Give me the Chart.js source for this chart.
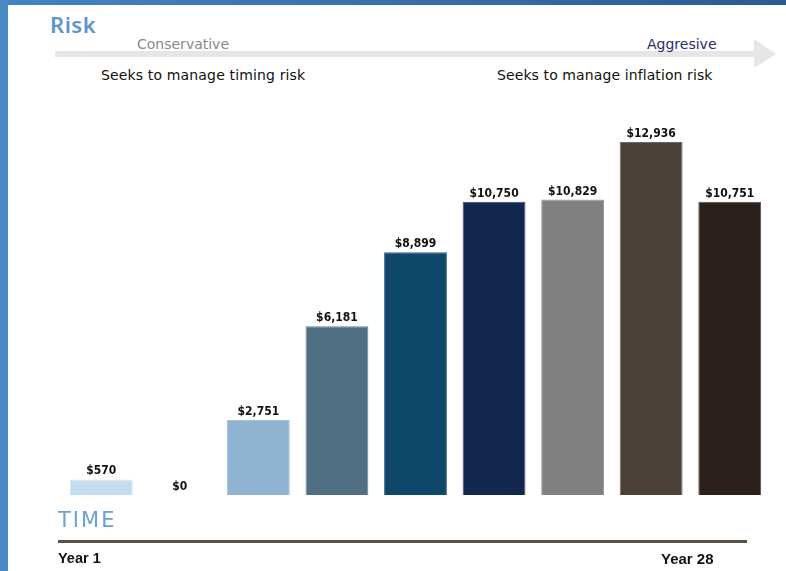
<!DOCTYPE html>
<html>
<head>
<meta charset="utf-8">
<script src="https://cdn.jsdelivr.net/npm/chart.js@4.4.1/dist/chart.umd.min.js"></script>
<style>
  html, body { margin: 0; padding: 0; background: #fff; }
  #page { position: relative; width: 786px; height: 571px; overflow: hidden; background: #fff; }
  #topbar { position: absolute; left: 0; top: 0; width: 786px; height: 5px;
            background: linear-gradient(to right, #4584c2, #2b5c90); }
  #leftbar { position: absolute; left: 0; top: 0; width: 8px; height: 571px; background: #4a88c4; }
  .txt { position: absolute; white-space: nowrap; line-height: 1; }
  #risk { left: 50px; top: 9px; font: 600 22px "Noto Sans", "DejaVu Sans", sans-serif; color: #5f95cc; letter-spacing: 0.5px; }
  #cons { left: 137px; top: 36px; font: 14px "DejaVu Sans", sans-serif; color: #8a8a8a; }
  #aggr { left: 647px; top: 36px; font: 14px "DejaVu Sans", sans-serif; color: #2b2b6b; }
  #timing { left: 101px; top: 67px; font: 14px "DejaVu Sans", sans-serif; color: #111; letter-spacing: 0.15px; }
  #inflation { left: 497px; top: 67px; font: 14px "DejaVu Sans", sans-serif; color: #111; letter-spacing: 0.1px; }
  #time { left: 58px; top: 508px; font: 21px "DejaVu Sans", sans-serif; color: #6aa0d3; letter-spacing: 2px; }
  #year1 { left: 58px; top: 550px; font: bold 14.5px "Liberation Sans", Arial, sans-serif; color: #111; }
  #year28 { left: 661px; top: 550px; font: bold 15px "Liberation Sans", Arial, sans-serif; color: #111; }
  #timeline { position: absolute; left: 58px; top: 540px; width: 689px; height: 3px; background: #5a5247; }
  #arrow { position: absolute; left: 0; top: 0; }
  #chartBox { position: absolute; left: 0; top: 0; width: 786px; height: 571px; }
</style>
</head>
<body>
<div id="page">
  <div id="topbar"></div>
  <div id="leftbar"></div>
  <svg id="arrow" width="786" height="80">
    <rect x="55" y="51" width="700" height="6" fill="#e6e6e6"></rect>
    <polygon points="754,39 776,54 754,68" fill="#e6e6e6"></polygon>
  </svg>
  <div class="txt" id="risk">Risk</div>
  <div class="txt" id="cons">Conservative</div>
  <div class="txt" id="aggr">Aggresive</div>
  <div class="txt" id="timing">Seeks to manage timing risk</div>
  <div class="txt" id="inflation">Seeks to manage inflation risk</div>
  <div id="chartBox"><canvas id="riskChart"></canvas></div>
  <div class="txt" id="time">TIME</div>
  <div id="timeline"></div>
  <div class="txt" id="year1">Year 1</div>
  <div class="txt" id="year28">Year 28</div>
</div>
<script>
// Portfolios from conservative to aggressive
const portfolios = ['P1', 'P2', 'P3', 'P4', 'P5', 'P6', 'P7', 'P8', 'P9'];
const balances = [570, 0, 2751, 6181, 8899, 10750, 10829, 12936, 10751];
const barColors = ['#c5dcef', '#c5dcef', '#8fb3d0', '#516f83', '#0f476b', '#13264d', '#808080', '#4a4139', '#2c201c'];
const edgeColors = ['#d6e6f4', '#d6e6f4', '#a6c3da', '#6a8597', '#3a6684', '#3d4b6a', '#9a9a9a', '#6d665f', '#56504c'];

function money(v) {
    return '$' + new Intl.NumberFormat('en-US').format(v);
}

// Draw the value above each bar
const valueLabels = {
    id: 'valueLabels',
    afterDatasetsDraw(chart) {
        const ctx = chart.ctx;
        const meta = chart.getDatasetMeta(0);
        ctx.save();
        ctx.font = 'bold 12px "DejaVu Sans Condensed", "DejaVu Sans", sans-serif';
        ctx.fillStyle = '#111';
        ctx.textAlign = 'center';
        ctx.textBaseline = 'alphabetic';
        meta.data.forEach(function(bar, i) {
            ctx.fillText(money(balances[i]), bar.x, bar.y - 5);
        });
        ctx.restore();
    }
};

const ctx = document.getElementById('riskChart').getContext('2d');
new Chart(ctx, {
    type: 'bar',
    data: {
        labels: portfolios,
        datasets: [{
            data: balances,
            backgroundColor: barColors,
            borderColor: edgeColors,
            borderWidth: 1,
            barPercentage: 0.8,
            categoryPercentage: 1
        }]
    },
    options: {
        responsive: true,
        maintainAspectRatio: false,
        animation: false,
        layout: { padding: { left: 62, right: 17, top: 113, bottom: 76 } },
        plugins: { legend: { display: false }, tooltip: { enabled: false } },
        scales: {
            x: { display: false },
            y: { display: false, min: 0, max: 14000 }
        }
    },
    plugins: [valueLabels]
});
</script>
</body>
</html>
